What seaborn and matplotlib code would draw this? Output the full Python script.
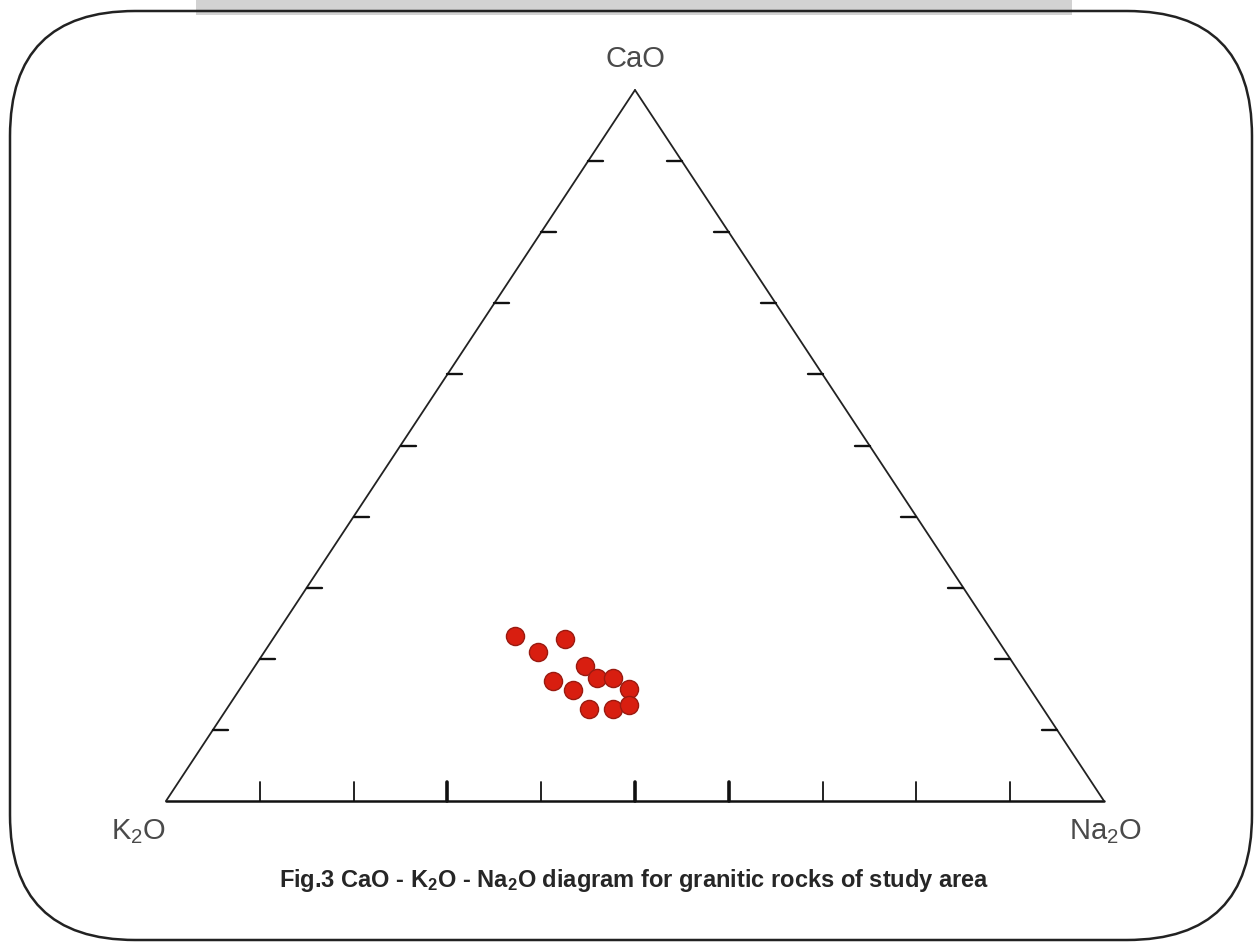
import numpy as np
import pandas as pd
import matplotlib
matplotlib.use("Agg")
import matplotlib.pyplot as plt
import seaborn as sns
from matplotlib.patches import FancyBboxPatch, Rectangle

# ---- data (wt% normalised) ----
cao = [23.2, 21.0, 22.8, 19.0, 17.3, 17.3, 16.9, 15.6, 15.8, 12.9, 12.9, 13.5]
k2o = [51.2, 49.8, 46.1, 45.8, 45.4, 43.7, 50.3, 48.8, 42.7, 48.5, 45.9, 43.9]
na2o = [25.6, 29.2, 31.1, 35.2, 37.3, 39.0, 32.8, 35.6, 41.5, 38.6, 41.2, 42.6]
tick_pcts = [10, 20, 30, 40, 50, 60, 70, 80, 90]
bold_ticks = [30, 50, 60]
vertex_labels = ["CaO", "K$_2$O", "Na$_2$O"]
caption = "Fig.3 CaO - K$_2$O - Na$_2$O diagram for granitic rocks of study area"

W, H = 1254, 942
sns.set_theme(style="white")
plt.rcParams["font.family"] = ["Liberation Sans", "DejaVu Sans"]
plt.rcParams["mathtext.default"] = "regular"

fig = plt.figure(figsize=(W / 100, H / 100), dpi=100)
fig.patch.set_facecolor("white")

# background overlay (frame, grey bar)
bg = fig.add_axes([0, 0, 1, 1], zorder=0)
bg.set_xlim(0, W)
bg.set_ylim(H, 0)
bg.axis("off")
bg.add_patch(Rectangle((196, -2), 876, 17, facecolor="#d2d2d2", edgecolor="none"))
bg.add_patch(FancyBboxPatch((10, 11), 1242, 929,
                            boxstyle="round,pad=0,rounding_size=125",
                            facecolor="none", edgecolor="#222222", lw=1.8))

# ternary axes: x = Na + Ca/2, y = Ca
L, R, B, T = 166, 1104, 801, 90
ax = fig.add_axes([L / W, 1 - B / H, (R - L) / W, (B - T) / H], zorder=2)
ax.set_xlim(0, 1)
ax.set_ylim(0, 1)
ax.axis("off")
ax.patch.set_alpha(0)

def tern(ca, na):
    ca = np.asarray(ca, float)
    na = np.asarray(na, float)
    return na + ca / 2, ca

# triangle edges
vk = tern(0, 0); vn = tern(0, 1); vc = tern(1, 0)
ax.plot([vk[0], vn[0]], [vk[1], vn[1]], color="#111111", lw=1.8, clip_on=False)
ax.plot([vk[0], vc[0]], [vk[1], vc[1]], color="#222222", lw=1.3, clip_on=False)
ax.plot([vn[0], vc[0]], [vn[1], vc[1]], color="#222222", lw=1.3, clip_on=False)

dy = 19 / (B - T)
dx = 15 / (R - L)
for p in tick_pcts:
    f = p / 100
    lw = 2.6 if p in bold_ticks else 1.3
    bx, by = tern(0, f)
    ax.plot([bx, bx], [by, by + dy], color="#111111", lw=lw, clip_on=False)
    lx, ly = tern(f, 0)
    ax.plot([lx, lx + dx], [ly, ly], color="#111111", lw=1.7, clip_on=False)
    rx, ry = tern(f, 1 - f)
    ax.plot([rx, rx - dx], [ry, ry], color="#111111", lw=1.7, clip_on=False)

# data points
tot = np.array(cao) + np.array(k2o) + np.array(na2o)
px, py = tern(np.array(cao) / tot, np.array(na2o) / tot)
df = pd.DataFrame({"x": px, "y": py})
sns.scatterplot(data=df, x="x", y="y", ax=ax, s=170, color="#d81e10",
                edgecolor="#9a1a10", linewidth=1.0, zorder=5, clip_on=False,
                legend=False)

# vertex labels
lab_kw = dict(color="#4a4a4a", fontsize=21)
ax.annotate(vertex_labels[0], xy=(vc[0], vc[1]), xytext=(0, 12),
            textcoords="offset points", ha="center", va="bottom", **lab_kw)
ax.annotate(vertex_labels[1], xy=(vk[0], vk[1]), xytext=(-20, -12),
            textcoords="offset points", ha="center", va="top", **lab_kw)
ax.annotate(vertex_labels[2], xy=(vn[0], vn[1]), xytext=(1, -12),
            textcoords="offset points", ha="center", va="top", **lab_kw)

bg.text(634, 881, caption, ha="center", va="center", fontsize=17,
        color="#262626", fontweight="bold",
        family=["Liberation Sans Narrow", "Liberation Sans", "DejaVu Sans"])

fig.savefig("out.png", dpi=100, facecolor="white")
